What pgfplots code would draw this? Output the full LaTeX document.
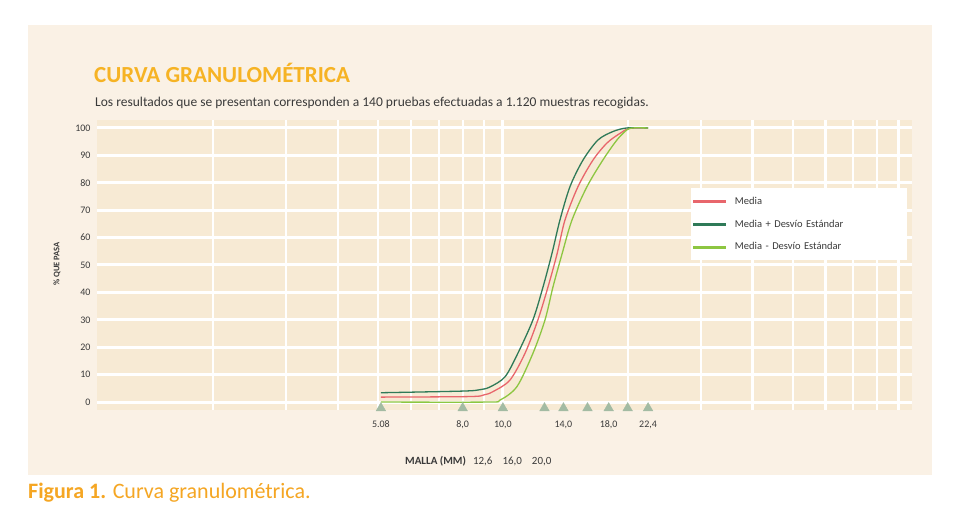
\documentclass[border=0pt]{standalone}
\usepackage{pgfplots}
\pgfplotsset{compat=1.18}
\usepackage{fontspec}
\setmainfont{Carlito}
\definecolor{panelbg}{HTML}{FAF1E5}
\definecolor{cellbg}{HTML}{F7EAD4}
\definecolor{titleor}{HTML}{F6B324}
\definecolor{capor}{HTML}{F5A623}
\definecolor{txt}{HTML}{3A3A3A}
\definecolor{cred}{HTML}{E8666C}
\definecolor{cdark}{HTML}{2F7A58}
\definecolor{clight}{HTML}{8DC641}
\definecolor{tri}{HTML}{A3BBA3}
\begin{document}
\begin{tikzpicture}
\fill[white] (0pt,0pt) rectangle (961pt,527pt);
\fill[panelbg] (28pt,52pt) rectangle (932pt,502pt);
\node[anchor=west, text=titleor, font=\fontsize{23}{26}\selectfont\bfseries, inner sep=0] at (94pt,454pt) {CURVA GRANULOMÉTRICA};
\node[anchor=west, text=txt, font=\fontsize{13.5}{15}\selectfont, inner sep=0] at (95pt,424pt) {Los resultados que se presentan corresponden a 140 pruebas efectuadas a 1.120 muestras recogidas.};
\node[anchor=west, inner sep=0, font=\fontsize{22}{25}\selectfont, text=capor] at (28pt,34pt) {\textbf{Figura 1.} Curva granulométrica.};
\node[rotate=90, text=txt, font=\fontsize{8.5}{9}\selectfont\bfseries, inner sep=0] at (57pt,263pt) {\% QUE PASA};
\node[anchor=west, text=txt, font=\fontsize{11}{12}\selectfont, inner sep=0] at (405pt,66pt) {\textbf{MALLA (MM)}\hspace{7pt}12,6\hspace{10pt}16,0\hspace{10pt}20,0};
\begin{axis}[
  at={(97pt,117pt)}, anchor=south west,
  width=815pt, height=290pt, scale only axis,
  xmode=log, xmin=1.05, xmax=97,
  ymin=-2.9, ymax=102.9,
  clip=false,
  axis background/.style={fill=cellbg},
  axis line style={draw=none},
  xtick={1,10,100}, xticklabels={},
  minor xtick={2,3,4,5,6,7,8,9,20,30,40,50,60,70,80,90},
  ytick={0,10,20,30,40,50,60,70,80,90,100},
  grid=both,
  major grid style={white, line width=3pt},
  minor grid style={white, line width=2.2pt},
  major tick length=0pt, minor tick length=0pt,
  /pgf/number format/assume math mode=true,
  yticklabel style={font=\fontsize{10}{11}\selectfont, text=txt, xshift=-3pt},
  extra x ticks={5.08,8,10,14,18,22.4},
  extra x tick labels={5.08,{8,0},{10,0},{14,0},{18,0},{22,4}},
  extra x tick style={grid=none, major tick length=0pt, tick label style={font=\fontsize{10}{11}\selectfont, text=txt, yshift=-7pt}},
  legend style={at={(0.728,0.766)}, anchor=north west, fill=white, draw=none,
    font=\fontsize{10.5}{12}\selectfont\color{txt}, row sep=10pt, column sep=8pt, inner xsep=2pt, inner ysep=7pt,
    nodes={text width=168pt, align=left}},
  legend cell align=left,
]
\addlegendimage{legend image code/.code={\fill[cred] (0pt,-0.9pt) rectangle (32pt,0.9pt);}}
\addlegendentry{Media}
\addlegendimage{legend image code/.code={\fill[cdark] (0pt,-0.9pt) rectangle (32pt,0.9pt);}}
\addlegendentry{Media + Desvío Estándar}
\addlegendimage{legend image code/.code={\fill[clight] (0pt,-0.9pt) rectangle (32pt,0.9pt);}}
\addlegendentry{Media - Desvío Estándar}
\addplot[draw=cred, line width=1.3pt, smooth, tension=0.5, forget plot] coordinates {
(5.08,1.8)(8.3,2.0)(9.0,2.6)(9.465,3.8)(10.40,8)(11.31,17.8)(12.15,30)(12.85,42)(13.51,54)(14.12,66.4)(15.18,78.6)(16.50,88.3)(17.83,94.5)(19.16,98)(20.2,99.8)(22.4,100)};
\addplot[draw=cdark, line width=1.3pt, smooth, tension=0.5, forget plot] coordinates {
(5.08,3.4)(8.0,4.0)(8.8,4.5)(9.31,5.5)(10.12,9.2)(10.87,17.8)(11.82,30)(12.50,42)(13.14,54.3)(13.73,66.4)(14.52,78.6)(15.61,88.3)(16.96,95.6)(18.44,98.7)(19.92,100)(22.4,100)};
\addplot[draw=clight, line width=1.3pt, smooth, tension=0.5, forget plot] coordinates {
(5.08,0)(9.2,0)(9.84,0.7)(10.81,5.6)(11.82,17.8)(12.64,30)(13.21,42)(13.89,54)(14.68,66.4)(15.96,78.6)(17.43,88.3)(18.84,95.6)(19.92,99.3)(20.6,100)(22.4,100)};
\addplot[only marks, mark=triangle*, mark size=5.5pt, color=tri, forget plot] coordinates {
(5.08,-2.2)(8,-2.2)(10,-2.2)(12.6,-2.2)(14,-2.2)(16,-2.2)(18,-2.2)(20,-2.2)(22.4,-2.2)};
\end{axis}
\end{tikzpicture}
\end{document}
